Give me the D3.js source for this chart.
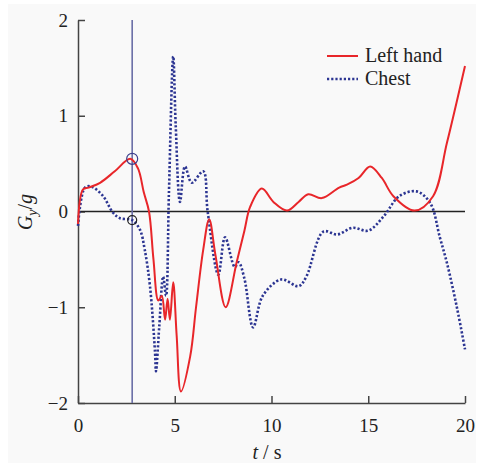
<!DOCTYPE html>
<html><head><meta charset="utf-8">
<script src="https://cdn.jsdelivr.net/npm/d3@7"></script>
<style>body{margin:0;background:#fff}svg{display:block}text{font-family:"Liberation Serif","DejaVu Serif","Times New Roman",serif}</style>
</head><body>
<script>
const xTicks = [0, 5, 10, 15, 20];
const yTicks = [-2, -1, 0, 1, 2];
const leftT = [0,0.26,0.55,1.14,1.9,2.7,3.1,3.4,3.67,3.9,4.15,4.33,4.5,4.63,4.75,4.92,5.1,5.32,5.8,6.1,6.47,6.78,7.1,7.63,8.2,8.6,8.9,9.5,10.1,10.8,11.4,11.9,12.6,13.5,13.9,14.5,15.1,15.7,16.3,17.4,18.35,19.07,20];
const leftV = [-0.13,0.23,0.25,0.3,0.42,0.55,0.45,0.2,0,-0.5,-0.93,-0.88,-1.13,-0.91,-1.13,-0.74,-1.3,-1.88,-1.51,-1.0,-0.4,-0.08,-0.45,-1.0,-0.53,-0.2,0.05,0.24,0.1,0.01,0.1,0.18,0.14,0.25,0.28,0.35,0.47,0.35,0.16,0.01,0.16,0.72,1.52];
const chestT = [0,0.36,0.7,1.3,1.8,2.17,2.8,3.2,3.45,3.72,3.98,4.03,4.2,4.4,4.55,4.7,4.92,5.05,5.27,5.53,5.88,6.47,6.7,7.25,7.6,8.1,8.3,8.6,9.05,9.55,10.5,11.4,11.8,12.68,13.4,14.2,15.0,15.8,16.6,17.5,18.2,18.7,19.07,19.6,20];
const chestV = [-0.15,0.25,0.26,0.16,-0.01,-0.07,-0.09,-0.19,-0.4,-0.78,-1.47,-1.67,-1.2,-0.68,-0.88,0.2,1.62,0.9,0.1,0.47,0.3,0.42,0.0,-0.66,-0.27,-0.58,-0.53,-0.7,-1.21,-0.88,-0.71,-0.78,-0.68,-0.21,-0.24,-0.17,-0.2,-0.05,0.16,0.21,0.09,-0.27,-0.54,-1.02,-1.44];
const cursorT = 2.8;
const cursorV = [0.55, -0.09];

const W = 488, H = 463;
const svg = d3.select("body").append("svg").attr("width", W).attr("height", H);
svg.append("rect").attr("x",8).attr("y",4).attr("width",468).attr("height",459).attr("fill","#f9f9f9");
const x = d3.scaleLinear().domain([0,20]).range([78,465]);
const y = d3.scaleLinear().domain([-2,2]).range([403,20]);
const font = "'Liberation Serif','DejaVu Serif','Times New Roman',serif";

// axes
const xa = svg.append("g").attr("transform",`translate(0,${y(-2)})`)
  .call(d3.axisBottom(x).tickValues(xTicks).tickSizeInner(-7).tickSizeOuter(0).tickPadding(16));
const ya = svg.append("g").attr("transform",`translate(${x(0)},0)`)
  .call(d3.axisLeft(y).tickValues(yTicks).tickSizeInner(-7).tickSizeOuter(0).tickPadding(10).tickFormat(d=>d<0?"\u2212"+(-d):d));
[xa,ya].forEach(a=>{
  a.attr("font-family",font);
  a.selectAll("path,line").attr("stroke","#444").attr("stroke-width",1.5);
  a.selectAll("text").attr("font-family",font).attr("font-size",19).attr("fill","#222");
});

// zero line
svg.append("line").attr("x1",x(0)).attr("x2",x(20)).attr("y1",y(0)).attr("y2",y(0)).attr("stroke","#222").attr("stroke-width",1.3);
// cursor
svg.append("line").attr("x1",x(cursorT)).attr("x2",x(cursorT)).attr("y1",y(2)).attr("y2",y(-2)).attr("stroke","#6a6ea6").attr("stroke-width",1.6);

const line = d3.line().x(d=>x(d[0])).y(d=>y(d[1])).curve(d3.curveCatmullRom.alpha(0.5));
svg.append("path").datum(chestT.map((t,i)=>[t,chestV[i]])).attr("d",line)
  .attr("fill","none").attr("stroke","#2c3592").attr("stroke-width",2.6).attr("stroke-dasharray","2.2,2");
svg.append("path").datum(leftT.map((t,i)=>[t,leftV[i]])).attr("d",line)
  .attr("fill","none").attr("stroke","#e8262a").attr("stroke-width",2);

svg.append("circle").attr("cx",x(cursorT)).attr("cy",y(cursorV[0])).attr("r",5.5).attr("fill","none").attr("stroke","#3a3e8c").attr("stroke-width",1.2);
svg.append("circle").attr("cx",x(cursorT)).attr("cy",y(cursorV[1])).attr("r",4.5).attr("fill","none").attr("stroke","#222").attr("stroke-width",1.2);

// legend
svg.append("line").attr("x1",327).attr("x2",358).attr("y1",56).attr("y2",56).attr("stroke","#e8262a").attr("stroke-width",2);
svg.append("line").attr("x1",327).attr("x2",358).attr("y1",79).attr("y2",79).attr("stroke","#2c3592").attr("stroke-width",2.6).attr("stroke-dasharray","2.2,2");
svg.append("text").attr("x",365).attr("y",62).text("Left hand").attr("font-family",font).attr("font-size",20).attr("fill","#222");
svg.append("text").attr("x",365).attr("y",85).text("Chest").attr("font-family",font).attr("font-size",20).attr("fill","#222");

// axis labels
const xl = svg.append("text").attr("x",267).attr("y",459).attr("text-anchor","middle").attr("font-family",font).attr("font-size",20).attr("fill","#222");
xl.append("tspan").attr("font-style","italic").text("t");
xl.append("tspan").text(" / s");
const yl = svg.append("text").attr("transform",`translate(32,212) rotate(-90)`).attr("text-anchor","middle").attr("font-family",font).attr("font-size",20).attr("fill","#222");
yl.append("tspan").attr("font-style","italic").text("G");
yl.append("tspan").attr("font-style","italic").attr("font-size",14).attr("dy",5).text("y");
yl.append("tspan").attr("dy",-5).text("/");
yl.append("tspan").attr("font-style","italic").text("g");
</script>
</body></html>
